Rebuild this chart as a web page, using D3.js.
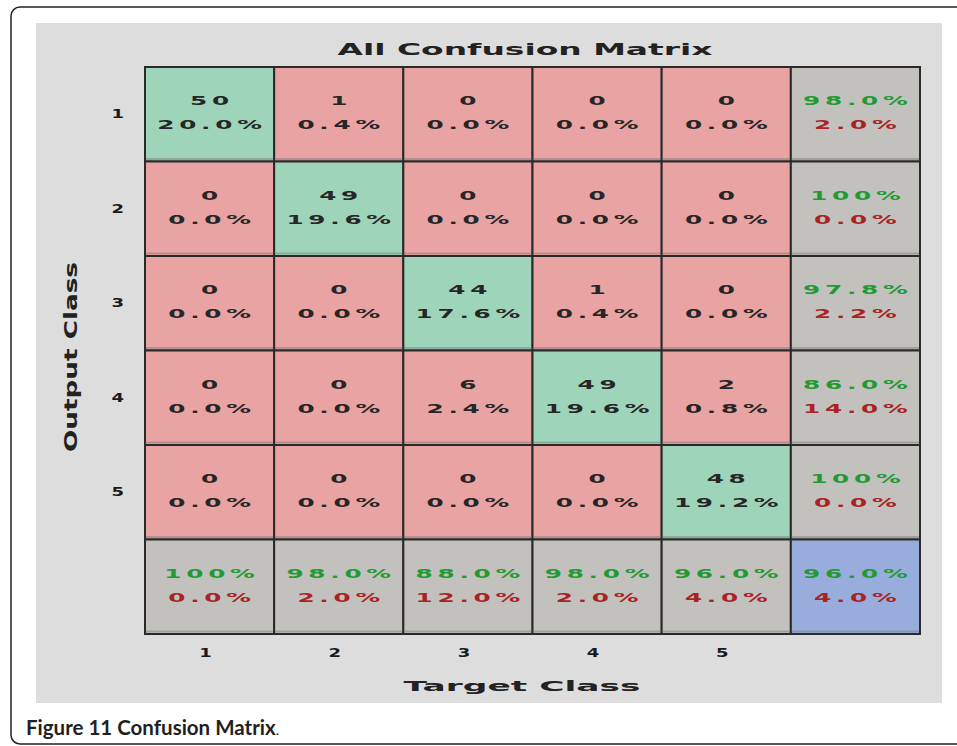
<!DOCTYPE html>
<html>
<head>
<meta charset="utf-8">
<script src="https://cdn.jsdelivr.net/npm/d3@7"></script>
<style>
  html, body { margin: 0; padding: 0; background: #ffffff; }
  svg { display: block; }
</style>
</head>
<body>
<svg id="chart" width="957" height="746"></svg>
<script>
// ---- data ----
const classLabels = ["1", "2", "3", "4", "5"];
const outputRow1 = [50, 1, 0, 0, 0];
const outputRow2 = [0, 49, 0, 0, 0];
const outputRow3 = [0, 0, 44, 1, 0];
const outputRow4 = [0, 0, 6, 49, 2];
const outputRow5 = [0, 0, 0, 0, 48];
const counts = [outputRow1, outputRow2, outputRow3, outputRow4, outputRow5];
const titleText = "All Confusion Matrix";
const xLabelText = "Target Class";
const yLabelText = "Output Class";

// ---- derived ----
const total = d3.sum(counts, r => d3.sum(r));
const fmtPct = v => (Math.abs(v - 100) < 1e-9 ? "100%" : v.toFixed(1) + "%");

const svg = d3.select("#chart");

// outer frame + caption
svg.append("rect").attr("x", 11).attr("y", 7).attr("width", 980).attr("height", 737)
  .attr("rx", 9).attr("fill", "#fff").attr("stroke", "#222").attr("stroke-width", 1.5);
svg.append("rect").attr("x", 36).attr("y", 23).attr("width", 906).attr("height", 680)
  .attr("fill", "#dddddd");

const cap = svg.append("text").attr("x", 26).attr("y", 735)
  .attr("font-family", "Lato, 'Open Sans', sans-serif").attr("font-size", 20.5).attr("fill", "#231f20");
cap.append("tspan").attr("font-weight", "bold").text("Figure 11 Confusion Matrix");
cap.append("tspan").attr("font-size", 14).text(".");

// scales
const cols = [...classLabels, "all"];
const x = d3.scaleBand().domain(cols).range([145, 920]);
const y = d3.scaleBand().domain(cols).range([67, 634]);

const COL_GREEN = "#9ed4b9", COL_RED = "#e8a3a2", COL_GRAY = "#c3c1be", COL_BLUE = "#98addb";
const TXT_GREEN = "#229a32", TXT_RED = "#a82424", TXT_DARK = "#262626";

// build cell list
const cells = [];
counts.forEach((row, i) => {
  row.forEach((v, j) => {
    cells.push({r: cols[i], c: cols[j], fill: i === j ? COL_GREEN : COL_RED,
      l1: String(v), l2: fmtPct(100 * v / total), c1: TXT_DARK, c2: TXT_DARK});
  });
  const rs = d3.sum(row), ok = row[i];
  cells.push({r: cols[i], c: "all", fill: COL_GRAY,
    l1: fmtPct(100 * ok / rs), l2: fmtPct(100 * (rs - ok) / rs), c1: TXT_GREEN, c2: TXT_RED});
});
classLabels.forEach((lab, j) => {
  const cs = d3.sum(counts, r => r[j]), ok = counts[j][j];
  cells.push({r: "all", c: lab, fill: COL_GRAY,
    l1: fmtPct(100 * ok / cs), l2: fmtPct(100 * (cs - ok) / cs), c1: TXT_GREEN, c2: TXT_RED});
});
const correct = d3.sum(counts, (r, i) => r[i]);
cells.push({r: "all", c: "all", fill: COL_BLUE,
  l1: fmtPct(100 * correct / total), l2: fmtPct(100 * (total - correct) / total), c1: TXT_GREEN, c2: TXT_RED});

const g = svg.append("g");
g.selectAll("rect.cell").data(cells).join("rect").attr("class", "cell")
  .attr("x", d => x(d.c)).attr("y", d => y(d.r))
  .attr("width", x.bandwidth()).attr("height", y.bandwidth())
  .attr("fill", d => d.fill).attr("stroke", "#2a2a2a").attr("stroke-width", 2);

// subtle shadow lines at bottom of each cell
g.selectAll("line.sh").data(cells).join("line").attr("class", "sh")
  .attr("x1", d => x(d.c) + 1).attr("x2", d => x(d.c) + x.bandwidth() - 1)
  .attr("y1", d => y(d.r) + y.bandwidth() - 2.5).attr("y2", d => y(d.r) + y.bandwidth() - 2.5)
  .attr("stroke", "#777").attr("stroke-opacity", 0.45).attr("stroke-width", 2);

function stretchedText(parent, tx, ty, str, color, size, sx, ls) {
  parent.append("g").attr("transform", `translate(${tx},${ty}) scale(${sx},1)`)
    .append("text").attr("x", ls / 2).attr("text-anchor", "middle")
    .attr("font-family", "'DejaVu Sans', sans-serif").attr("font-weight", "bold")
    .attr("font-size", size).attr("letter-spacing", ls).attr("fill", color).text(str);
}

cells.forEach(d => {
  const cx = x(d.c) + x.bandwidth() / 2, cy = y(d.r) + y.bandwidth() / 2;
  stretchedText(g, cx, cy - 9, d.l1, d.c1, 13, 1.9, 2.5);
  stretchedText(g, cx, cy + 15, d.l2, d.c2, 13, 1.9, 2.5);
});

// axes (tick labels only)
const xAxis = svg.append("g").attr("transform", "translate(0,645)")
  .call(d3.axisBottom(x).tickValues(classLabels).tickSize(0).tickPadding(0));
xAxis.select(".domain").remove();
xAxis.selectAll(".tick").attr("transform", d => `translate(${x(d) + x.bandwidth() / 2 - 4},645)`);
xAxis.attr("transform", null);
xAxis.selectAll("text").attr("font-family", "'DejaVu Sans', sans-serif").attr("font-weight", "bold")
  .attr("font-size", 12).attr("fill", "#1a1a1a").attr("dy", "1em").attr("y", 0)
  .attr("transform", "scale(1.5,1)");

const yAxis = svg.append("g").attr("transform", "translate(124,0)")
  .call(d3.axisLeft(y).tickValues(classLabels).tickSize(0).tickPadding(0));
yAxis.select(".domain").remove();
yAxis.selectAll("text").attr("font-family", "'DejaVu Sans', sans-serif").attr("font-weight", "bold")
  .attr("font-size", 12).attr("fill", "#1a1a1a").attr("transform", "scale(1.5,1)");

// title and axis labels
svg.append("text").attr("x", 525).attr("y", 55).attr("text-anchor", "middle")
  .attr("font-family", "'DejaVu Sans', sans-serif").attr("font-weight", "bold").attr("font-size", 15)
  .attr("fill", "#222").attr("textLength", 375).attr("lengthAdjust", "spacingAndGlyphs").text(titleText);

svg.append("text").attr("x", 522).attr("y", 691).attr("text-anchor", "middle")
  .attr("font-family", "'DejaVu Sans', sans-serif").attr("font-weight", "bold").attr("font-size", 14)
  .attr("fill", "#222").attr("textLength", 237).attr("lengthAdjust", "spacingAndGlyphs").text(xLabelText);

svg.append("g").attr("transform", "translate(77,357) rotate(-90) scale(1,1.3)")
  .append("text").attr("x", 0).attr("y", 0).attr("text-anchor", "middle")
  .attr("font-family", "'DejaVu Sans', sans-serif").attr("font-weight", "bold").attr("font-size", 14)
  .attr("fill", "#222").attr("textLength", 190).attr("lengthAdjust", "spacingAndGlyphs").text(yLabelText);
</script>
</body>
</html>
